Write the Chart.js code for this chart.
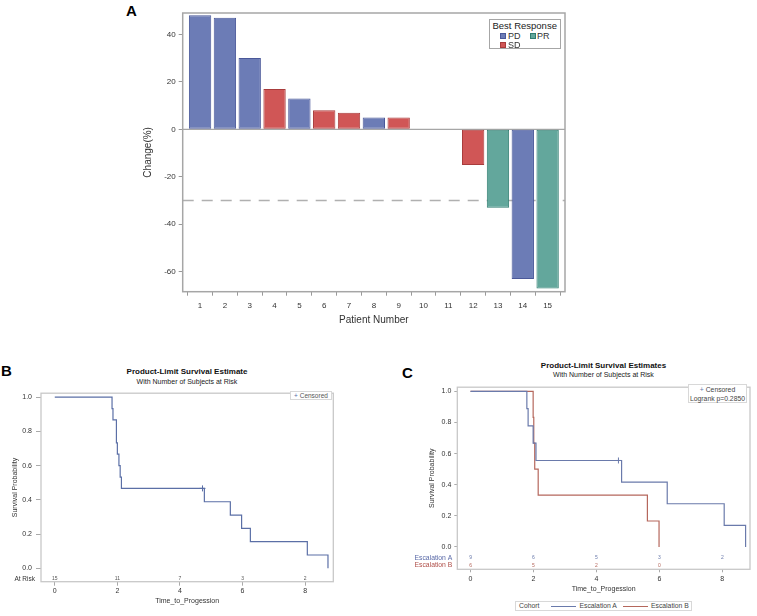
<!DOCTYPE html>
<html>
<head>
<meta charset="utf-8">
<title>Best response waterfall and PFS</title>
<script src="https://cdn.jsdelivr.net/npm/chart.js@4.4.1/dist/chart.umd.min.js"></script>
<style>
  html, body { margin: 0; padding: 0; background: #fff; }
  body { font-family: "Liberation Sans", Arial, sans-serif; color: #333; }
  #page { position: relative; width: 757px; height: 616px; overflow: hidden; }
  canvas, .abs { position: absolute; }
  .tag { position: absolute; font-weight: bold; font-size: 15px; line-height: 1; color: #000; }
  .centered { position: absolute; white-space: nowrap; line-height: 1; transform: translate(-50%, -50%); }
  .km-title { font-size: 8px; font-weight: bold; color: #111; }
  .km-sub { font-size: 7px; color: #222; }
  .box { position: absolute; background: #fff; box-sizing: border-box; white-space: nowrap; }
  .swatch { position: absolute; width: 6px; height: 6px; box-sizing: border-box; border: 1px solid; }
  .lbl { position: absolute; line-height: 1; transform: translateY(-50%); white-space: nowrap; }
  .key-line { position: absolute; height: 0; border-top: 1px solid; }
</style>
</head>
<body>
<div id="page">
  <!-- Panel A -->
  <div class="tag" style="left:126px; top:3px;">A</div>
  <canvas id="waterfall" width="455" height="332" style="left:120px; top:0px;"></canvas>
  <div class="box" style="left:489px; top:19px; width:72px; height:30px; border:1.5px solid #a6a6a6; font-size:9.5px;">
    <span class="lbl" style="left:2.5px; top:6px; color:#222;">Best Response</span>
    <span class="swatch" style="left:10px; top:13px; background:#6c7cb6; border-color:#4a5899;"></span>
    <span class="lbl" style="left:18px; top:16px; font-size:9px;">PD</span>
    <span class="swatch" style="left:39.5px; top:13px; background:#63a79c; border-color:#2f7d70;"></span>
    <span class="lbl" style="left:47px; top:16px; font-size:9px;">PR</span>
    <span class="swatch" style="left:10px; top:22px; background:#d05656; border-color:#a83c3c;"></span>
    <span class="lbl" style="left:18px; top:25px; font-size:9px;">SD</span>
  </div>

  <!-- Panel B -->
  <div class="tag" style="left:1px; top:363px;">B</div>
  <div class="centered km-title" style="left:187px; top:372px;">Product-Limit Survival Estimate</div>
  <div class="centered km-sub" style="left:187px; top:380.7px;">With Number of Subjects at Risk</div>
  <canvas id="kmAll" width="345" height="231" style="left:0px; top:385px;"></canvas>
  <div class="box" style="left:290px; top:390.5px; width:42px; height:9px; border:1px solid #d8d8d8; font-size:6.5px; line-height:7px; text-align:center; color:#555;">
    <span style="color:#5b6fa6;">+</span> Censored
  </div>

  <!-- Panel C -->
  <div class="tag" style="left:402px; top:365px;">C</div>
  <div class="centered km-title" style="left:603.5px; top:365.7px;">Product-Limit Survival Estimates</div>
  <div class="centered km-sub" style="left:603.5px; top:374px;">With Number of Subjects at Risk</div>
  <canvas id="kmCohort" width="377" height="236" style="left:380px; top:380px;"></canvas>
  <div class="box" style="left:688px; top:384px; width:59px; height:18.5px; border:1px solid #d8d8d8; font-size:6.8px; color:#444;">
    <span class="centered" style="left:50%; top:5.2px;"><span style="color:#6a7aab;">+</span> Censored</span>
    <span class="centered" style="left:50%; top:13.6px;">Logrank p=0.2850</span>
  </div>
  <div class="box" style="left:515px; top:601px; width:177px; height:9.5px; border:1px solid #d8d8d8; font-size:6.8px; color:#444;">
    <span class="lbl" style="left:3px; top:4px;">Cohort</span>
    <span class="key-line" style="left:35px; top:4px; width:25px; border-color:#6a7aab;"></span>
    <span class="lbl" style="left:63.5px; top:4px;">Escalation A</span>
    <span class="key-line" style="left:106.5px; top:4px; width:25px; border-color:#b5675c;"></span>
    <span class="lbl" style="left:135px; top:4px;">Escalation B</span>
  </div>
</div>

<script>
// ===== DATA: PANEL A (waterfall of best change) =====
const patientIds   = [1, 2, 3, 4, 5, 6, 7, 8, 9, 10, 11, 12, 13, 14, 15];
const changePct    = [48, 47, 30, 17, 13, 8, 7, 5, 5, null, null, -15, -33, -63, -67];
const bestResponse = ['PD', 'PD', 'PD', 'SD', 'PD', 'SD', 'SD', 'PD', 'SD', null, null, 'SD', 'PR', 'PD', 'PR'];
const responseOrder = ['PD', 'SD', 'PR'];
const changeTicks  = [-60, -40, -20, 0, 20, 40];
const responseCut  = -30;

// ===== DATA: PANEL B (all subjects) =====
const allTimes    = [0, 1.83, 1.86, 1.97, 2.00, 2.05, 2.09, 2.13, 4.78, 5.61, 5.97, 6.25, 8.07, 8.73];
const allSurvival = [1.0, 0.933, 0.867, 0.733, 0.667, 0.600, 0.533, 0.467, 0.389, 0.311, 0.233, 0.156, 0.078, 0.0];
const allCensorTimes = [4.72];
const allCensorSurv  = [0.467];
const allAtRisk      = [15, 11, 7, 3, 2];

// ===== DATA: PANEL C (by cohort) =====
const escATimes    = [0, 1.79, 1.83, 1.99, 2.08, 4.80, 6.25, 8.06, 8.74];
const escASurvival = [1.0, 0.889, 0.778, 0.667, 0.556, 0.417, 0.278, 0.139, 0.0];
const escACensorTimes = [4.70];
const escACensorSurv  = [0.556];
const escBTimes    = [0, 1.99, 2.01, 2.04, 2.15, 5.62, 5.99];
const escBSurvival = [1.0, 0.833, 0.667, 0.500, 0.333, 0.167, 0.0];
const escAAtRisk   = [9, 6, 5, 3, 2];
const escBAtRisk   = [6, 5, 2, 0];

const riskTimes     = [0, 2, 4, 6, 8];
const survivalTicks = [0, 0.2, 0.4, 0.6, 0.8, 1.0];

// ===== STYLE =====
const FONT = '"Liberation Sans", Arial, sans-serif';
const responseFill = { PD: '#6c7cb6', SD: '#d05656', PR: '#63a79c' };
const responseEdge = { PD: '#4a5899', SD: '#a83c3c', PR: '#2f7d70' };
const colorAll = '#5b6fa6';
const colorA = '#6a7aab';
const colorB = '#b5675c';

Chart.defaults.animation = false;
Chart.defaults.font.family = FONT;

/**
 * Draws a box round the plot area (SAS style frame)
 */
const frameBox = {
    id: 'frameBox',
    afterDraw(chart, args, opts) {
        const { ctx, chartArea: a } = chart;
        ctx.save();
        ctx.strokeStyle = opts.color;
        ctx.lineWidth = opts.width;
        ctx.strokeRect(a.left, a.top, a.right - a.left, a.bottom - a.top);
        ctx.restore();
    }
};

/**
 * Horizontal reference lines drawn under the bars
 */
const refLines = {
    id: 'refLines',
    beforeDatasetsDraw(chart, args, opts) {
        const { ctx, chartArea: a, scales: { y } } = chart;
        opts.lines.forEach(line => {
            const py = y.getPixelForValue(line.value);
            ctx.save();
            ctx.strokeStyle = line.color;
            ctx.lineWidth = line.width;
            ctx.setLineDash(line.dash);
            ctx.beginPath();
            ctx.moveTo(a.left, py);
            ctx.lineTo(a.right, py);
            ctx.stroke();
            ctx.restore();
        });
    }
};

/**
 * Number-at-risk rows placed inside the plot, below zero
 */
const atRisk = {
    id: 'atRisk',
    afterDatasetsDraw(chart, args, opts) {
        const { ctx, chartArea: a, scales: { x, y } } = chart;
        ctx.save();
        ctx.textBaseline = 'middle';
        opts.rows.forEach(row => {
            const py = y.getPixelForValue(row.level);
            ctx.font = opts.labelFont;
            ctx.fillStyle = row.labelColor;
            ctx.textAlign = 'right';
            ctx.fillText(row.label, a.left - opts.labelGap, py);
            ctx.font = opts.countFont;
            ctx.fillStyle = row.color;
            ctx.textAlign = 'center';
            row.counts.forEach((n, i) => ctx.fillText(String(n), x.getPixelForValue(riskTimes[i]), py));
        });
        ctx.restore();
    }
};

const toPoints = (xs, ys) => xs.map((v, i) => ({ x: v, y: ys[i] }));

// ===== PANEL A =====
new Chart(document.getElementById('waterfall'), {
    type: 'bar',
    data: {
        datasets: responseOrder.map(r => ({
            label: r,
            data: patientIds
                .map((id, i) => ({ x: id, y: changePct[i], r: bestResponse[i] }))
                .filter(p => p.r === r)
                .map(p => ({ x: p.x, y: p.y })),
            backgroundColor: responseFill[r],
            borderColor: responseEdge[r],
            borderWidth: 1,
            borderSkipped: false,
            barPercentage: 0.9,
            categoryPercentage: 1,
            grouped: false
        }))
    },
    options: {
        responsive: false,
        layout: { padding: { left: 18, top: 13, right: 10, bottom: 0 } },
        plugins: {
            legend: { display: false },
            tooltip: { enabled: false },
            frameBox: { color: '#a6a6a6', width: 1.5 },
            refLines: {
                lines: [
                    { value: 0, color: '#a6a6a6', width: 1.2, dash: [] },
                    { value: responseCut, color: '#b0b0b0', width: 1.5, dash: [11, 8] }
                ]
            }
        },
        scales: {
            x: {
                type: 'linear', min: 0.3, max: 15.7, offset: false,
                afterBuildTicks: s => { s.ticks = patientIds.map(v => ({ value: v })); },
                afterFit: s => { s.height = 40.3; },
                grid: { drawOnChartArea: false, tickLength: 4, color: '#999' },
                border: { display: false },
                ticks: { font: { size: 8 }, color: '#333', padding: 5, maxRotation: 0 },
                title: { display: true, text: 'Patient Number', font: { size: 10 }, color: '#333', padding: { top: 0, bottom: 5.3 } }
            },
            y: {
                type: 'linear', min: -68.4, max: 49,
                afterBuildTicks: s => { s.ticks = changeTicks.map(v => ({ value: v })); },
                afterFit: s => { s.width = 44.7; },
                grid: { drawOnChartArea: false, tickLength: 4, color: '#999' },
                border: { display: false },
                ticks: { font: { size: 8 }, color: '#333', padding: 3 },
                title: { display: true, text: 'Change(%)', font: { size: 10 }, color: '#333', padding: { top: 4, bottom: 0 } }
            }
        }
    },
    plugins: [frameBox, refLines]
});

/**
 * Kaplan-Meier style chart builder
 */
function kmChart(canvasId, cfg) {
    return new Chart(document.getElementById(canvasId), {
        type: 'line',
        data: { datasets: cfg.datasets },
        options: {
            responsive: false,
            layout: { padding: { left: 0, top: cfg.padTop, right: cfg.padRight, bottom: 0 } },
            plugins: {
                legend: { display: false },
                tooltip: { enabled: false },
                frameBox: { color: '#c8c8c8', width: 1.3 },
                atRisk: cfg.atRisk
            },
            scales: {
                x: {
                    type: 'linear', min: cfg.xRange[0], max: cfg.xRange[1],
                    afterBuildTicks: s => { s.ticks = riskTimes.map(v => ({ value: v })); },
                    afterFit: s => { s.height = cfg.xAxisHeight; },
                    grid: { drawOnChartArea: false, tickLength: cfg.xTickLen, color: '#aaa' },
                    border: { display: false },
                    ticks: { font: { size: 7 }, color: '#333', padding: cfg.xTickPad, maxRotation: 0 },
                    title: { display: true, text: 'Time_to_Progession', font: { size: 7 }, color: '#333', padding: { top: 0, bottom: cfg.xTitlePad } }
                },
                y: {
                    type: 'linear', min: cfg.yRange[0], max: cfg.yRange[1],
                    afterBuildTicks: s => { s.ticks = survivalTicks.map(v => ({ value: v })); },
                    afterFit: s => { s.width = cfg.yAxisWidth; },
                    grid: { drawOnChartArea: false, tickLength: cfg.yTickLen, color: '#aaa' },
                    border: { display: false },
                    ticks: { font: { size: 7 }, color: '#333', padding: cfg.yTickPad, callback: v => v.toFixed(1) },
                    title: { display: true, text: 'Survival Probability', font: { size: 7 }, color: '#333', padding: { top: cfg.yTitlePad, bottom: 0 } }
                }
            }
        },
        plugins: [frameBox, atRisk]
    });
}

const stepLine = (xs, ys, color) => ({
    data: toPoints(xs, ys), stepped: 'before', borderColor: color, borderWidth: 1.2,
    pointRadius: 0, fill: false, tension: 0
});
const censorMarks = (xs, ys, color) => ({
    data: toPoints(xs, ys), showLine: false, pointStyle: 'cross', pointRadius: 3,
    borderColor: color, borderWidth: 1
});

// ===== PANEL B =====
kmChart('kmAll', {
    datasets: [stepLine(allTimes, allSurvival, colorAll), censorMarks(allCensorTimes, allCensorSurv, colorAll)],
    xRange: [-0.44, 8.9], yRange: [-0.078, 1.023],
    padTop: 3.3, padRight: 11.7, xAxisHeight: 34.3, yAxisWidth: 41,
    xTickLen: 4, xTickPad: 1, xTitlePad: 10.5, yTickLen: 5, yTickPad: 4, yTitlePad: 10.8,
    atRisk: {
        labelFont: '6.5px ' + FONT, countFont: '5px ' + FONT, labelGap: 6,
        rows: [{ label: 'At Risk', labelColor: '#333', color: '#555', level: -0.061, counts: allAtRisk }]
    }
});

// ===== PANEL C =====
kmChart('kmCohort', {
    datasets: [
        stepLine(escATimes, escASurvival, colorA),
        stepLine(escBTimes, escBSurvival, colorB),
        censorMarks(escACensorTimes, escACensorSurv, colorA)
    ],
    xRange: [-0.42, 8.88], yRange: [-0.1435, 1.027],
    padTop: 1.7, padRight: 7, xAxisHeight: 46.7, yAxisWidth: 77.3,
    xTickLen: 3, xTickPad: 3, xTitlePad: 22.5, yTickLen: 3, yTickPad: 3, yTitlePad: 47.5,
    atRisk: {
        labelFont: '6.8px ' + FONT, countFont: '5px ' + FONT, labelGap: 5,
        rows: [
            { label: 'Escalation A', labelColor: '#5a6aa8', color: '#6a7aab', level: -0.071, counts: escAAtRisk },
            { label: 'Escalation B', labelColor: '#b0504a', color: '#b5675c', level: -0.117, counts: escBAtRisk }
        ]
    }
});
</script>
</body>
</html>
